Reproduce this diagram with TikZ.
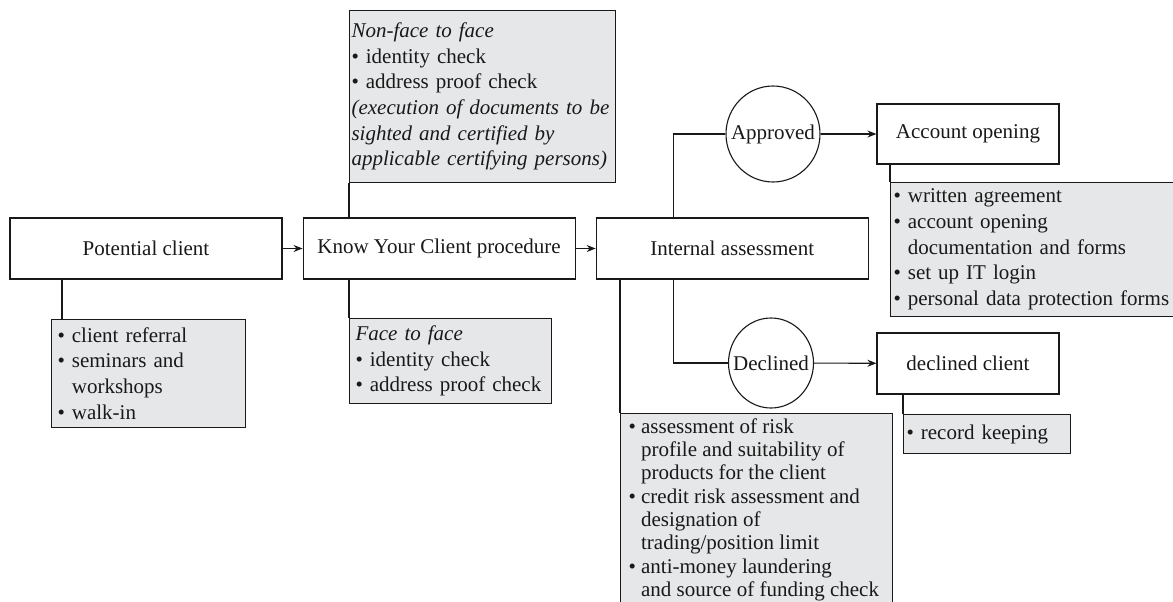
\documentclass[tikz,border=0pt]{standalone}
\usepackage{fontspec}
\setmainfont{Liberation Serif}
\usepackage{xcolor}
\usetikzlibrary{shapes,fit}
\usetikzlibrary{calc}
\usetikzlibrary{positioning}
\usetikzlibrary{arrows.meta}
\definecolor{notegray}{RGB}{230,231,232}
\newcommand{\itm}{\textbullet\ }
\newcommand{\cnt}{\phantom{\textbullet\ }}

\begin{document}
\begin{tikzpicture}[x=1pt,y=-1pt,line width=1.1pt,color=black!90,
        font=\fontsize{21}{25.7}\selectfont,
        mainbox/.style={draw,fill=white,minimum width=272,minimum height=61,inner sep=2pt},
        endbox/.style={mainbox,minimum width=182},
        decision/.style={draw,fill=white,ellipse,inner sep=0pt},
        note/.style={draw,fill=notegray,anchor=north west,align=left,inner ysep=0pt},
        flow/.style={-{Stealth[length=9pt,width=7pt]}}]
    \useasboundingbox (0,0) rectangle (1173,602);

    % main row
    \node[mainbox] (pc) at (146,248.5) {Potential client};
    \node[mainbox,right=20pt of pc] (kyc) {Know Your Client procedure};
    \node[mainbox,right=20pt of kyc] (ia) {Internal assessment};

    % outcomes
    \node[decision,minimum width=94,minimum height=96] (appr) at (773,134) {\makebox[0pt]{Approved}};
    \node[decision,minimum width=85,minimum height=90] (decl) at (771,363) {\makebox[0pt]{Declined}};
    \node[endbox,minimum height=60] (acc) at (968,134) {Account opening};
    \node[endbox] (dcl) at (968,363.5) {declined client};

    % notes
    \node[note,inner xsep=6pt,text width=182,minimum height=108] (pcnote) at (51,319)
        {\itm client referral\\\itm seminars and\\\cnt workshops\\\itm walk-in};
    \node[note,inner xsep=2pt,text width=262,minimum height=172] (nfnote) at (349,10)
        {\textit{Non-face to face}\\\itm identity check\\\itm address proof check\\
         \mbox{\textit{(execution of documents to be}}\\\textit{sighted and certified by}\\
         \mbox{\textit{applicable certifying persons)}}};
    \node[note,inner xsep=6pt,text width=190,minimum height=85] (ffnote) at (349,318)
        {\textit{Face to face}\\\itm identity check\\\itm address proof check};
    \node[note,inner xsep=3pt,text width=284,minimum height=134] (acnote) at (890,182)
        {\itm written agreement\\\itm account opening\\\cnt documentation and forms\\
         \itm set up IT login\\\mbox{\itm personal data protection forms}};
    \node[note,inner xsep=8pt,inner ysep=5pt,font=\fontsize{21}{23.3}\selectfont] (asnote) at (620,413)
        {\parbox[c][210pt][t]{256pt}{\raggedright
         \itm assessment of risk\\\cnt profile and suitability of\\\cnt products for the client\\
         \mbox{\itm credit risk assessment and}\\\cnt designation of\\\cnt trading/position limit\\
         \itm anti-money laundering\\\mbox{\cnt and source of funding check}}};
    \node[note,inner xsep=3pt,text width=161,minimum height=39] (recnote) at (903,414)
        {\itm record keeping};

    % connectors
    \draw[flow] (pc) -- (kyc);
    \draw[flow] (kyc) -- (ia);
    \coordinate (pcjoin) at ([xshift=11pt]pcnote.north west);
    \draw (pcjoin) -- (pcjoin |- pc.south);
    \draw (nfnote.south west) -- (nfnote.south west |- kyc.north);
    \draw (ffnote.north west) -- (ffnote.north west |- kyc.south);
    \coordinate (iaup) at ([xshift=78pt]ia.north west);
    \coordinate (iadown) at ([xshift=78pt]ia.south west);
    \draw (iaup) |- (appr);
    \draw (iadown) |- (decl);
    \draw (asnote.north west) -- (asnote.north west |- ia.south);
    \draw[flow] (appr) -- (acc);
    \draw[flow] (decl) -- (dcl);
    \draw (acnote.north west) -- (acnote.north west |- acc.south);
    \draw (recnote.north west) -- (recnote.north west |- dcl.south);
\end{tikzpicture}
\end{document}
